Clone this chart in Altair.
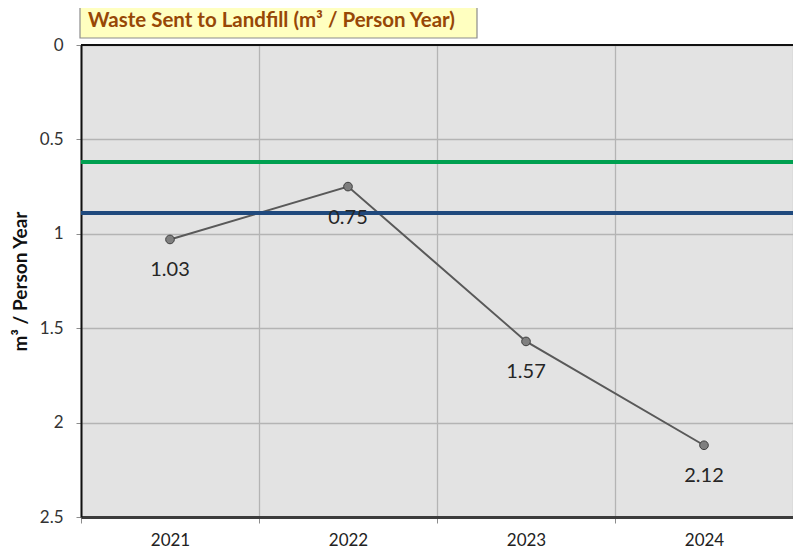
import altair as alt
import pandas as pd

years = ["2021", "2022", "2023", "2024"]
waste = [1.03, 0.75, 1.57, 2.12]
target_names = ["green", "blue"]
target_values = [0.62, 0.89]
target_colors = ["#00A050", "#1F497D"]
title_text = "Waste Sent to Landfill (m³ / Person Year)"
y_title = "m³ / Person Year"

df = pd.DataFrame({"year": years, "value": waste})
tg = pd.DataFrame({"name": target_names, "value": target_values, "color": target_colors})
tdf = pd.DataFrame({"t": [title_text]})

W, H = 712, 472
FONT = "Lato"

x_enc = alt.X("year:N", title=None, sort=years,
              axis=alt.Axis(tickBand="extent", labelAngle=0))
y_scale = alt.Scale(domain=[0, 2.5], reverse=True, nice=False, zero=False)
y_enc = alt.Y("value:Q", title=y_title, scale=y_scale,
              axis=alt.Axis(values=[0, 0.5, 1, 1.5, 2, 2.5], format="~g"))

base = alt.Chart(df)

line = base.mark_line(color="#595959", strokeWidth=2).encode(x=x_enc, y=y_enc)

targets = alt.Chart(tg).mark_rule(strokeWidth=4).encode(
    y=alt.Y("value:Q", scale=y_scale),
    color=alt.Color("color:N", scale=None),
)

top_border = alt.Chart(pd.DataFrame({"v": [0]})).mark_rule(color="#111111", strokeWidth=2).encode(
    y=alt.Y("v:Q", scale=y_scale)
)

points = base.mark_point(filled=True, size=75, fill="#7f7f7f", stroke="#404040", strokeWidth=1,
                         opacity=1).encode(x="year:N", y=alt.Y("value:Q", scale=y_scale))

labels = base.mark_text(dy=31, font=FONT, fontSize=20, color="#262626").encode(
    x="year:N", y=alt.Y("value:Q", scale=y_scale), text=alt.Text("value:Q", format=".2f")
)

tbox = alt.Chart(tdf).mark_rect(fill="#FFFFC0", stroke="#8c8c8c", strokeWidth=1.2).encode(
    x=alt.value(-1), x2=alt.value(396), y=alt.value(-41), y2=alt.value(-7)
)
ttext = alt.Chart(tdf).mark_text(align="left", baseline="middle", font=FONT, fontSize=20.5,
                                 fontWeight="bold", color="#974706").encode(
    x=alt.value(7), y=alt.value(-24), text="t:N"
)

chart = alt.layer(line, targets, top_border, points, labels, tbox, ttext).properties(
    width=W, height=H,
    autosize=alt.AutoSizeParams(type="none"),
    padding={"left": 73, "top": 37, "right": 0, "bottom": 32},
).configure(background="white").configure_view(
    fill="#E3E3E3", stroke=None
).configure_axisX(
    grid=True, gridColor="#b4b4b4", gridWidth=1.3,
    domainColor="#3c3c3c", domainWidth=3, tickColor="#8c8c8c", tickSize=6,
    labelFont=FONT, labelFontSize=17, labelColor="#222222", labelPadding=9,
).configure_axisY(
    grid=True, gridColor="#b4b4b4", gridWidth=1.3, domainColor="#111111", domainWidth=2,
    tickColor="#8c8c8c", tickSize=5, labelFont=FONT, labelFontSize=17,
    labelColor="#333333", labelPadding=13, titleFont=FONT, titleFontSize=19,
    titleFontWeight="bold", titleColor="#111111", titlePadding=9,
)

chart.save("out.html", embed_options={"renderer": "svg", "actions": False})
